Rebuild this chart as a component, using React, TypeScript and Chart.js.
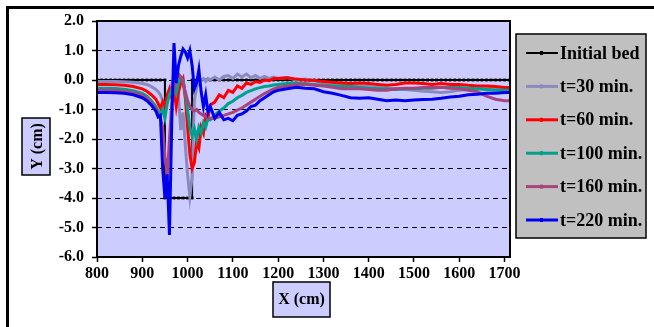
import React, { useEffect, useRef } from 'react';
import { Chart, registerables } from 'chart.js';

Chart.register(...registerables);

const SERIES_NAMES = ['Initial bed', 't=30 min.', 't=60 min.', 't=100 min.', 't=160 min.', 't=220 min.'];
const SERIES_COLORS = ['#000000', '#8A8ABE', '#FF0000', '#00A08C', '#A8447C', '#0000F0'];

const X_TICKS = [800, 900, 1000, 1100, 1200, 1300, 1400, 1500, 1600, 1700];
const Y_TICKS = [-6, -5, -4, -3, -2, -1, 0, 1, 2];

const BED_X = [
  800, 810, 820, 830, 840, 850, 860, 870, 880, 890, 900, 910, 920, 930, 940, 950,
  950, 960, 970, 980, 990, 1000, 1010,
  1010, 1020, 1030, 1040, 1050, 1060, 1070, 1080, 1090, 1100,
  1110, 1120, 1130, 1140, 1150, 1160, 1170, 1180, 1190, 1200,
  1210, 1220, 1230, 1240, 1250, 1260, 1270, 1280, 1290, 1300,
  1310, 1320, 1330, 1340, 1350, 1360, 1370, 1380, 1390, 1400,
  1410, 1420, 1430, 1440, 1450, 1460, 1470, 1480, 1490, 1500,
  1510, 1520, 1530, 1540, 1550, 1560, 1570, 1580, 1590, 1600,
  1610, 1620, 1630, 1640, 1650, 1660, 1670, 1680, 1690, 1700, 1710,
];
const BED_Y = [
  0, 0, 0, 0, 0, 0, 0, 0, 0, 0, 0, 0, 0, 0, 0, 0,
  -4, -4, -4, -4, -4, -4, -4,
  0, 0, 0, 0, 0, 0, 0, 0, 0, 0,
  0, 0, 0, 0, 0, 0, 0, 0, 0, 0,
  0, 0, 0, 0, 0, 0, 0, 0, 0, 0,
  0, 0, 0, 0, 0, 0, 0, 0, 0, 0,
  0, 0, 0, 0, 0, 0, 0, 0, 0, 0,
  0, 0, 0, 0, 0, 0, 0, 0, 0, 0,
  0, 0, 0, 0, 0, 0, 0, 0, 0, 0, 0,
];

const X_CM = [
  800, 820, 840, 860, 880, 900, 910, 920, 930, 935,
  940, 945, 950, 955, 960, 965, 970, 975, 980, 985,
  990, 995, 1000, 1005, 1010, 1015, 1020, 1025, 1030, 1035,
  1040, 1045, 1050, 1060, 1070, 1080, 1090, 1100, 1110, 1120,
  1130, 1140, 1150, 1160, 1170, 1180, 1190, 1200, 1220, 1240,
  1260, 1280, 1300, 1320, 1340, 1360, 1380, 1400, 1420, 1440,
  1460, 1480, 1500, 1520, 1540, 1560, 1580, 1600, 1620, 1640,
  1660, 1680, 1700, 1710,
];

const T30 = [
  -0.05, -0.05, -0.05, -0.06, -0.08, -0.12, -0.15, -0.22, -0.32, -0.4,
  -0.5, -0.7, -0.95, -0.6, -0.35, -0.15, 0.1, 0.25, -0.6, -1.7,
  -1.1, -2.2, -3.2, -3.95, -3.3, -0.7, -0.25, -0.1, 0.0, 0.05,
  -0.05, 0.05, 0.0, 0.1, 0.0, 0.12, 0.15, 0.05, 0.2, 0.1,
  0.2, 0.08, 0.15, 0.05, 0.12, 0.05, 0.1, 0.05, 0.08, 0.0,
  0.03, -0.02, -0.1, -0.12, -0.15, -0.18, -0.2, -0.22, -0.25, -0.28,
  -0.3, -0.32, -0.35, -0.38, -0.4, -0.42, -0.4, -0.35, -0.32, -0.3,
  -0.3, -0.3, -0.3, -0.3,
];

const T60 = [
  -0.15, -0.15, -0.16, -0.18, -0.22, -0.3, -0.38, -0.5, -0.65, -0.8,
  -0.95, -0.75, -1.0, -0.5, -0.3, -0.6, -0.3, -0.9, -0.4, -0.1,
  0.05, -0.6, -1.6, -2.5, -3.0, -2.8, -2.1, -2.3, -1.6, -1.8,
  -1.2, -1.3, -0.85, -0.75, -0.5, -0.6, -0.35, -0.42, -0.2, -0.28,
  -0.1, -0.15, -0.05, -0.08, 0.0, -0.02, 0.05, 0.05, 0.08, 0.03,
  0.0, -0.02, -0.05, -0.08, -0.1, -0.12, -0.1, -0.12, -0.15, -0.18,
  -0.15, -0.1, -0.1, -0.12, -0.15, -0.12, -0.15, -0.15, -0.18, -0.2,
  -0.2, -0.22, -0.25, -0.25,
];

const T100 = [
  -0.28, -0.28, -0.29, -0.31, -0.36, -0.45, -0.55, -0.7, -0.9, -1.05,
  -1.2, -1.0, -1.3, -0.8, -0.5, -0.3, -0.2, -0.45, -0.1, 0.1,
  0.0, -0.5, -1.0, -1.6, -1.9, -1.65, -2.0, -1.6, -1.8, -1.45,
  -1.6, -1.3, -1.35, -1.2, -1.05, -0.95, -0.8, -0.72, -0.6, -0.52,
  -0.42, -0.36, -0.3, -0.26, -0.22, -0.2, -0.17, -0.15, -0.12, -0.1,
  -0.12, -0.15, -0.18, -0.2, -0.22, -0.22, -0.25, -0.28, -0.3, -0.3,
  -0.32, -0.3, -0.3, -0.28, -0.28, -0.25, -0.25, -0.25, -0.28, -0.3,
  -0.32, -0.35, -0.35, -0.35,
];

const T160 = [
  -0.35, -0.35, -0.36, -0.38, -0.43, -0.52, -0.62, -0.78, -0.98, -1.15,
  -1.3, -1.6, -2.6, -3.3, -2.0, -0.8, -0.3, 0.0, 0.2, 0.1,
  -0.1, -0.4, -0.7, -0.9, -1.0, -1.05, -1.0, -1.1, -1.15, -1.2,
  -1.25, -1.28, -1.3, -1.3, -1.25, -1.2, -1.15, -1.1, -1.02, -0.95,
  -0.85, -0.75, -0.65, -0.55, -0.46, -0.38, -0.3, -0.25, -0.2, -0.15,
  -0.15, -0.18, -0.2, -0.25, -0.3, -0.3, -0.3, -0.32, -0.35, -0.35,
  -0.3, -0.28, -0.28, -0.25, -0.25, -0.25, -0.28, -0.3, -0.35, -0.4,
  -0.55, -0.65, -0.7, -0.7,
];

const T220 = [
  -0.42, -0.42, -0.43, -0.45, -0.5, -0.6, -0.7, -0.85, -1.05, -1.25,
  -1.2, -3.0, -4.0, -3.2, -5.25, -1.5, 1.25, -0.1, 0.5, 0.8,
  1.05, 0.95, 0.75, 1.0, 0.5, -0.3, -0.1, 0.35, -0.4, -0.9,
  -0.5, -1.1, -0.9, -1.3, -1.1, -1.35, -1.3, -1.38, -1.2, -1.15,
  -1.05, -0.9, -0.85, -0.7, -0.6, -0.5, -0.4, -0.35, -0.3, -0.25,
  -0.28, -0.3, -0.4, -0.45, -0.52, -0.6, -0.62, -0.6, -0.65, -0.7,
  -0.68, -0.7, -0.68, -0.66, -0.65, -0.62, -0.58, -0.55, -0.5, -0.48,
  -0.45, -0.45, -0.42, -0.42,
];

const SERIES_VALUES = [T30, T60, T100, T160, T220];

const FONT = 'Liberation Serif, "Times New Roman", serif';

const decorPlugin = {
  id: 'decor',
  beforeDraw(chart: any) {
    const { ctx, chartArea: a } = chart;
    ctx.save();
    ctx.fillStyle = '#CCCCFF';
    ctx.fillRect(a.left, a.top, a.right - a.left, a.bottom - a.top);
    ctx.restore();
  },
  afterDatasetsDraw(chart: any) {
    const { ctx, chartArea: a } = chart;
    ctx.save();
    ctx.strokeStyle = '#000';
    ctx.lineWidth = 2;
    ctx.strokeRect(a.left, a.top, a.right - a.left, a.bottom - a.top);
    ctx.restore();
  },
  afterDraw(chart: any) {
    const { ctx } = chart;
    ctx.save();
    // Y title box
    ctx.fillStyle = '#CCCCFF';
    ctx.fillRect(22, 118, 28, 57);
    ctx.strokeStyle = '#000';
    ctx.lineWidth = 1.5;
    ctx.strokeRect(22, 118, 28, 57);
    ctx.save();
    ctx.translate(36.5, 146.5);
    ctx.rotate(-Math.PI / 2);
    ctx.fillStyle = '#000';
    ctx.font = `bold 16px ${FONT}`;
    ctx.textAlign = 'center';
    ctx.textBaseline = 'middle';
    ctx.fillText('Y (cm)', 0, 1);
    ctx.restore();
    // X title box
    ctx.fillStyle = '#CCCCFF';
    ctx.fillRect(273, 282, 57, 35);
    ctx.strokeRect(273, 282, 57, 35);
    ctx.fillStyle = '#000';
    ctx.font = `bold 16px ${FONT}`;
    ctx.textAlign = 'center';
    ctx.textBaseline = 'middle';
    ctx.fillText('X (cm)', 301.5, 300);
    // Legend
    ctx.fillStyle = '#C0C0C0';
    ctx.fillRect(516, 34, 130, 204);
    ctx.strokeStyle = '#000';
    ctx.lineWidth = 1.5;
    ctx.strokeRect(516, 34, 130, 204);
    ctx.font = `bold 18px ${FONT}`;
    ctx.textAlign = 'left';
    ctx.textBaseline = 'middle';
    SERIES_NAMES.forEach((name, i) => {
      const y = 53 + i * 33.4;
      ctx.strokeStyle = SERIES_COLORS[i];
      ctx.lineWidth = i === 0 ? 2 : 3;
      ctx.beginPath();
      ctx.moveTo(526, y);
      ctx.lineTo(558, y);
      ctx.stroke();
      ctx.fillStyle = i === 0 ? '#000' : SERIES_COLORS[i];
      ctx.fillRect(540, y - 2, 3, 4);
      ctx.fillStyle = '#000';
      ctx.fillText(name, 560, y + 1);
    });
    ctx.restore();
  },
};

export default function App() {
  const ref = useRef<HTMLCanvasElement | null>(null);

  useEffect(() => {
    if (!ref.current) return;
    const datasets: any[] = [
      {
        label: SERIES_NAMES[0],
        data: BED_X.map((x, i) => ({ x, y: BED_Y[i] })),
        borderColor: SERIES_COLORS[0],
        backgroundColor: SERIES_COLORS[0],
        borderWidth: 2,
        pointRadius: 2,
        pointStyle: 'rect',
        pointBorderWidth: 0,
        tension: 0,
        order: 6,
      },
      ...SERIES_VALUES.map((vals, k) => ({
        label: SERIES_NAMES[k + 1],
        data: X_CM.map((x, i) => ({ x, y: vals[i] })),
        borderColor: SERIES_COLORS[k + 1],
        backgroundColor: SERIES_COLORS[k + 1],
        borderWidth: 3,
        pointRadius: 0,
        tension: 0,
        order: 5 - k,
      })),
    ];

    const tickFont = { family: FONT, size: 16, weight: 'bold' as const };

    const chart = new Chart(ref.current, {
      type: 'line',
      data: { datasets },
      plugins: [decorPlugin],
      options: {
        animation: false,
        responsive: false,
        maintainAspectRatio: false,
        layout: { padding: { left: 0, top: 21, right: 144, bottom: 0 } },
        plugins: { legend: { display: false }, tooltip: { enabled: false } },
        scales: {
          x: {
            type: 'linear',
            min: 800,
            max: 1712,
            afterBuildTicks: (s: any) => {
              s.ticks = X_TICKS.map((v) => ({ value: v }));
            },
            afterFit: (s: any) => {
              s.height = 70;
            },
            grid: {
              drawOnChartArea: false,
              drawTicks: true,
              tickLength: 5,
              color: '#000',
              tickColor: '#000',
              tickWidth: 1.5,
              tickBorderDash: [],
            },
            border: { display: false },
            ticks: {
              font: tickFont,
              color: '#000',
              padding: 2,
              maxRotation: 0,
              autoSkip: false,
              callback: (v: any) => String(v),
            },
          },
          y: {
            type: 'linear',
            min: -6,
            max: 2,
            afterBuildTicks: (s: any) => {
              s.ticks = Y_TICKS.map((v) => ({ value: v }));
            },
            afterFit: (s: any) => {
              s.width = 97;
            },
            grid: {
              drawOnChartArea: true,
              drawTicks: true,
              tickLength: 5,
              color: '#000',
              lineWidth: 1,
              tickColor: '#000',
              tickWidth: 1.5,
              tickBorderDash: [],
            },
            border: { display: false, dash: [5, 4] },
            ticks: {
              font: tickFont,
              color: '#000',
              padding: 8,
              autoSkip: false,
              callback: (v: any) => Number(v).toFixed(1),
            },
          },
        },
      } as any,
    });
    return () => chart.destroy();
  }, []);

  return (
    <div style={{ position: 'absolute', left: 0, top: 0, width: 654, height: 327, background: '#fff', overflow: 'hidden' }}>
      <div
        style={{
          position: 'absolute',
          left: 6,
          top: 6,
          width: 660,
          height: 319,
          borderLeft: '3px solid #000',
          borderTop: '3px solid #000',
        }}
      />
      <canvas ref={ref} width={654} height={327} style={{ position: 'absolute', left: 0, top: 0, width: 654, height: 327 }} />
    </div>
  );
}
